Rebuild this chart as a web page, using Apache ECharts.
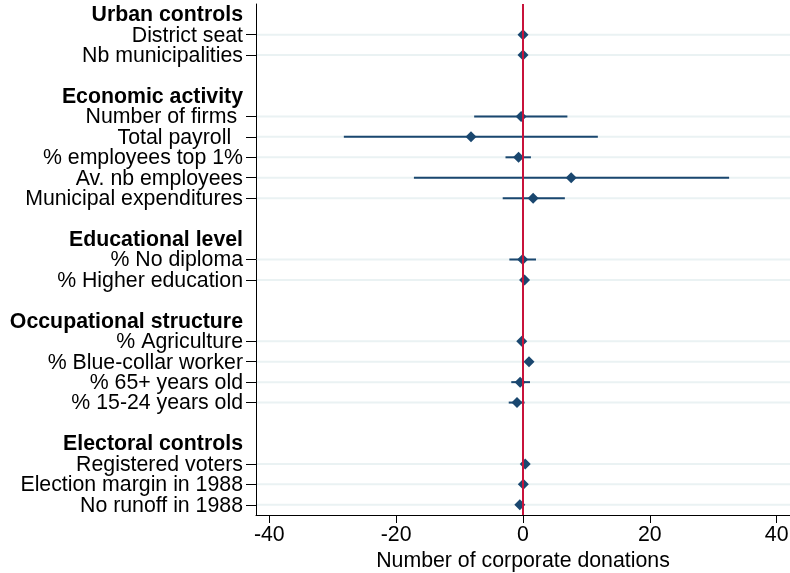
<!DOCTYPE html>
<html>
<head>
<meta charset="utf-8">
<script src="https://cdn.jsdelivr.net/npm/echarts@6/dist/echarts.min.js"></script>
<style>
  html, body { margin: 0; padding: 0; background: #fff; }
  #main { width: 790px; height: 573px; }
</style>
</head>
<body>
<div id="main"></div>
<script>
// rows top to bottom; blank rows use distinct spaces
var rows = [
  "Urban controls", "District seat", "Nb municipalities", " ",
  "Economic activity", "Number of firms ", "Total payroll  ", "% employees top 1%",
  "Av. nb employees", "Municipal expenditures", "  ",
  "Educational level", "% No diploma", "% Higher education", "   ",
  "Occupational structure", "% Agriculture", "% Blue-collar worker",
  "% 65+ years old", "% 15-24 years old", "    ",
  "Electoral controls", "Registered voters", "Election margin in 1988", "No runoff in 1988"
];
var headers = ["Urban controls", "Economic activity", "Educational level",
  "Occupational structure", "Electoral controls"];

// point estimates and 95% CI bounds (null = header / blank row)
var coef = [null, 0.0, 0.0, null,
  null, -0.3, -8.2, -0.7, 7.6, 1.6, null,
  null, -0.05, 0.25, null,
  null, -0.2, 0.95, -0.45, -0.95, null,
  null, 0.35, 0.05, -0.5];
var lower = [null, -0.4, -0.4, null,
  null, -7.7, -28.25, -2.76, -17.2, -3.2, null,
  null, -2.15, -0.2, null,
  null, -0.6, 0.5, -1.85, -2.25, null,
  null, -0.1, -0.35, -0.9];
var upper = [null, 0.4, 0.4, null,
  null, 7.0, 11.8, 1.25, 32.5, 6.6, null,
  null, 2.05, 0.7, null,
  null, 0.2, 1.4, 1.1, 0.25, null,
  null, 0.8, 0.45, -0.1];
var xTicks = [-40, -20, 0, 20, 40];

var navy = "#1a476f";
var font = "'Liberation Sans', Arial, sans-serif";
var fs = 21.3;

var pointData = [], ciData = [], gridData = [];
rows.forEach(function (r, i) {
  if (coef[i] === null) return;
  pointData.push([coef[i], i]);
  ciData.push([lower[i], upper[i], i]);
  gridData.push([0, i]);
});

var chart = echarts.init(document.getElementById("main"));
var option = {
  animation: false,
  textStyle: { fontFamily: font },
  grid: { left: 256, right: 0, top: 4, bottom: 58, outerBoundsMode: "none", containLabel: false },
  xAxis: {
    type: "value",
    min: -42.1,
    max: 42.1,
    name: "Number of corporate donations",
    nameLocation: "middle",
    nameGap: 33,
    nameTextStyle: { color: "#000", fontSize: fs, fontFamily: font },
    axisLine: { show: true, onZero: false, lineStyle: { color: "#000", width: 1 } },
    axisTick: { show: true, length: 8, customValues: xTicks, lineStyle: { color: "#000" } },
    axisLabel: { color: "#000", fontSize: fs, margin: 10, customValues: xTicks, fontFamily: font },
    splitLine: { show: false }
  },
  yAxis: {
    type: "category",
    inverse: true,
    data: rows,
    axisLine: { show: true, onZero: false, lineStyle: { color: "#000", width: 1 } },
    axisTick: {
      show: true,
      length: 10,
      alignWithLabel: true,
      interval: function (idx) { return coef[idx] !== null; },
      lineStyle: { color: "#000" }
    },
    axisLabel: {
      interval: 0,
      margin: 13,
      color: "#000",
      fontSize: fs,
      fontFamily: font,
      formatter: function (v) {
        return headers.indexOf(v) >= 0 ? "{h|" + v + "}" : "{i|" + v + "}";
      },
      rich: {
        h: { fontWeight: "bold", fontSize: fs, color: "#000", fontFamily: font, padding: [2, 0, 0, 0] },
        i: { fontSize: fs, color: "#000", fontFamily: font, padding: [2, 0, 0, 0] }
      }
    },
    splitLine: { show: false }
  },
  series: [
    {
      type: "custom",
      z: 1,
      silent: true,
      data: gridData,
      renderItem: function (params, api) {
        var y = api.coord([0, api.value(1)])[1];
        var cs = params.coordSys;
        return {
          type: "line",
          shape: { x1: cs.x + 1, y1: y, x2: cs.x + cs.width, y2: y },
          style: { stroke: "#eaf2f3", lineWidth: 2 }
        };
      }
    },
    {
      type: "custom",
      z: 2,
      data: ciData,
      renderItem: function (params, api) {
        var a = api.coord([api.value(0), api.value(2)]);
        var b = api.coord([api.value(1), api.value(2)]);
        return {
          type: "line",
          shape: { x1: a[0], y1: a[1], x2: b[0], y2: b[1] },
          style: { stroke: navy, lineWidth: 2 }
        };
      }
    },
    {
      type: "line",
      z: 3,
      data: [],
      markLine: {
        silent: true,
        symbol: "none",
        label: { show: false },
        lineStyle: { color: "#c8133b", width: 2, type: "solid" },
        data: [{ xAxis: 0 }]
      }
    },
    {
      type: "scatter",
      z: 4,
      symbol: "diamond",
      symbolSize: 11,
      itemStyle: { color: navy, opacity: 1 },
      data: pointData
    }
  ]
};
chart.setOption(option);
</script>
</body>
</html>
